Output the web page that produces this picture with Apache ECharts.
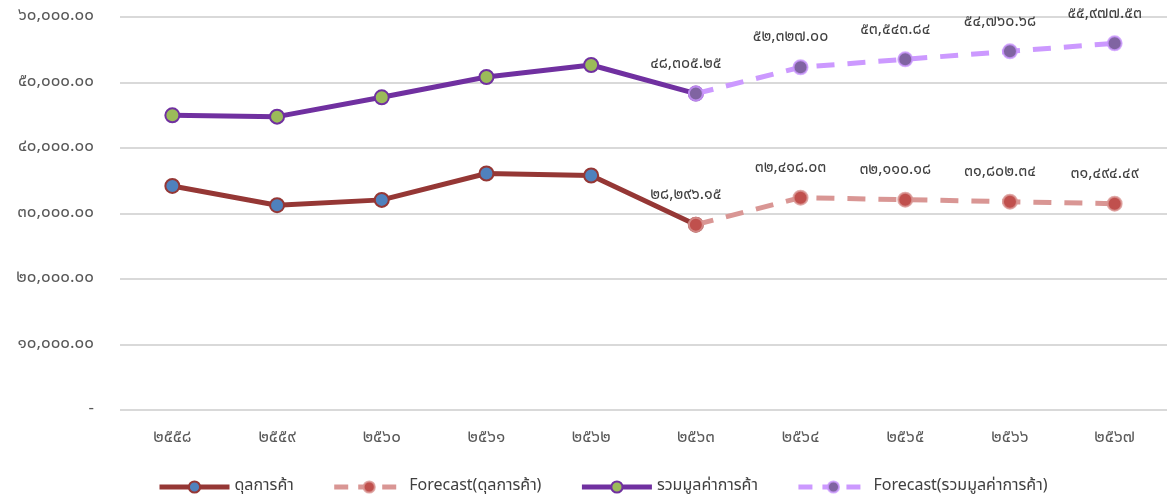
<!DOCTYPE html>
<html>
<head>
<meta charset="utf-8">
<script src="https://cdn.jsdelivr.net/npm/echarts@6/dist/echarts.min.js"></script>
<style>
  html, body { margin: 0; padding: 0; background: #fff; }
  #chart { width: 1167px; height: 500px; }
</style>
</head>
<body>
<div id="chart"></div>
<script>
// ปี (พ.ศ.)
var years = ['2558', '2559', '2560', '2561', '2562', '2563', '2564', '2565', '2566', '2567'];
// ดุลการค้า
var balance = [34210, 31270, 32080, 36110, 35800, 28296.15, null, null, null, null];
var balanceForecast = [null, null, null, null, null, 28296.15, 32418.03, 32110.18, 31802.34, 31494.49];
// รวมมูลค่าการค้า
var total = [44990, 44790, 47740, 50840, 52670, 48305.25, null, null, null, null];
var totalForecast = [null, null, null, null, null, 48305.25, 52327.00, 53543.84, 54760.68, 55977.53];

var font = '"Noto Sans Thai", "Noto Sans", "DejaVu Sans", sans-serif';

//แปลงเป็นเลขไทย
function thaiDigits(s) {
    return String(s).replace(/[0-9]/g, function (d) {
        return String.fromCharCode(0x0E50 + Number(d));
    });
}
function fmt(v, dec) {
    if (v === 0) return '-';
    return thaiDigits(Number(v).toLocaleString('en-US', { minimumFractionDigits: dec, maximumFractionDigits: dec }));
}

var dash = [18, 13];

var chart = echarts.init(document.getElementById('chart'));

var option = {
    animation: false,
    textStyle: { fontFamily: font },
    grid: { left: 120, right: 0, top: 17, bottom: 90, containLabel: false },
    legend: {
        bottom: 0,
        left: 152,
        itemWidth: 70,
        itemHeight: 14,
        itemGap: 38,
        textStyle: { color: '#404040', fontSize: 16, fontFamily: font },
        data: [
            { name: 'ดุลการค้า', lineStyle: { width: 5 } },
            { name: 'Forecast(ดุลการค้า)', lineStyle: { width: 5, type: [14, 10] } },
            { name: 'รวมมูลค่าการค้า', lineStyle: { width: 5 } },
            { name: 'Forecast(รวมมูลค่าการค้า)', lineStyle: { width: 5, type: [14, 10] } }
        ]
    },
    xAxis: {
        type: 'category',
        data: years,
        boundaryGap: true,
        axisLine: { show: false },
        axisTick: { show: false },
        axisLabel: {
            color: '#595959',
            fontSize: 17,
            margin: 20,
            formatter: function (v) { return thaiDigits(v); }
        }
    },
    yAxis: {
        type: 'value',
        min: 0,
        max: 60000,
        interval: 10000,
        axisLine: { show: false },
        axisTick: { show: false },
        splitLine: { lineStyle: { color: '#d9d9d9', width: 2 } },
        axisLabel: {
            color: '#595959',
            fontSize: 17,
            margin: 26,
            formatter: function (v) { return fmt(v, 2); }
        }
    },
    series: [
        {
            name: 'ดุลการค้า',
            type: 'line',
            data: balance,
            symbol: 'circle',
            symbolSize: 14,
            lineStyle: { color: '#953735', width: 5 },
            itemStyle: { color: '#4f81bd', borderColor: '#953735', borderWidth: 2 },
            z: 2
        },
        {
            name: 'Forecast(ดุลการค้า)',
            type: 'line',
            data: balanceForecast,
            symbol: 'circle',
            symbolSize: 14,
            lineStyle: { color: '#d99694', width: 5, type: dash },
            itemStyle: { color: '#c0504d', borderColor: 'rgba(217,150,148,0.8)', borderWidth: 2 },
            label: {
                show: true,
                position: 'top',
                distance: 13,
                offset: [-10, 0],
                color: '#404040',
                fontSize: 16,
                formatter: function (p) { return fmt(p.value, 2); }
            },
            z: 3
        },
        {
            name: 'รวมมูลค่าการค้า',
            type: 'line',
            data: total,
            symbol: 'circle',
            symbolSize: 14,
            lineStyle: { color: '#7030a0', width: 5 },
            itemStyle: { color: '#9bbb59', borderColor: '#7030a0', borderWidth: 2 },
            z: 2
        },
        {
            name: 'Forecast(รวมมูลค่าการค้า)',
            type: 'line',
            data: totalForecast,
            symbol: 'circle',
            symbolSize: 14,
            lineStyle: { color: '#cc99ff', width: 5, type: dash },
            itemStyle: { color: '#8064a2', borderColor: 'rgba(204,153,255,0.8)', borderWidth: 2 },
            label: {
                show: true,
                position: 'top',
                distance: 13,
                offset: [-10, 0],
                color: '#404040',
                fontSize: 16,
                formatter: function (p) { return fmt(p.value, 2); }
            },
            z: 3
        }
    ]
};

chart.setOption(option);
</script>
</body>
</html>
